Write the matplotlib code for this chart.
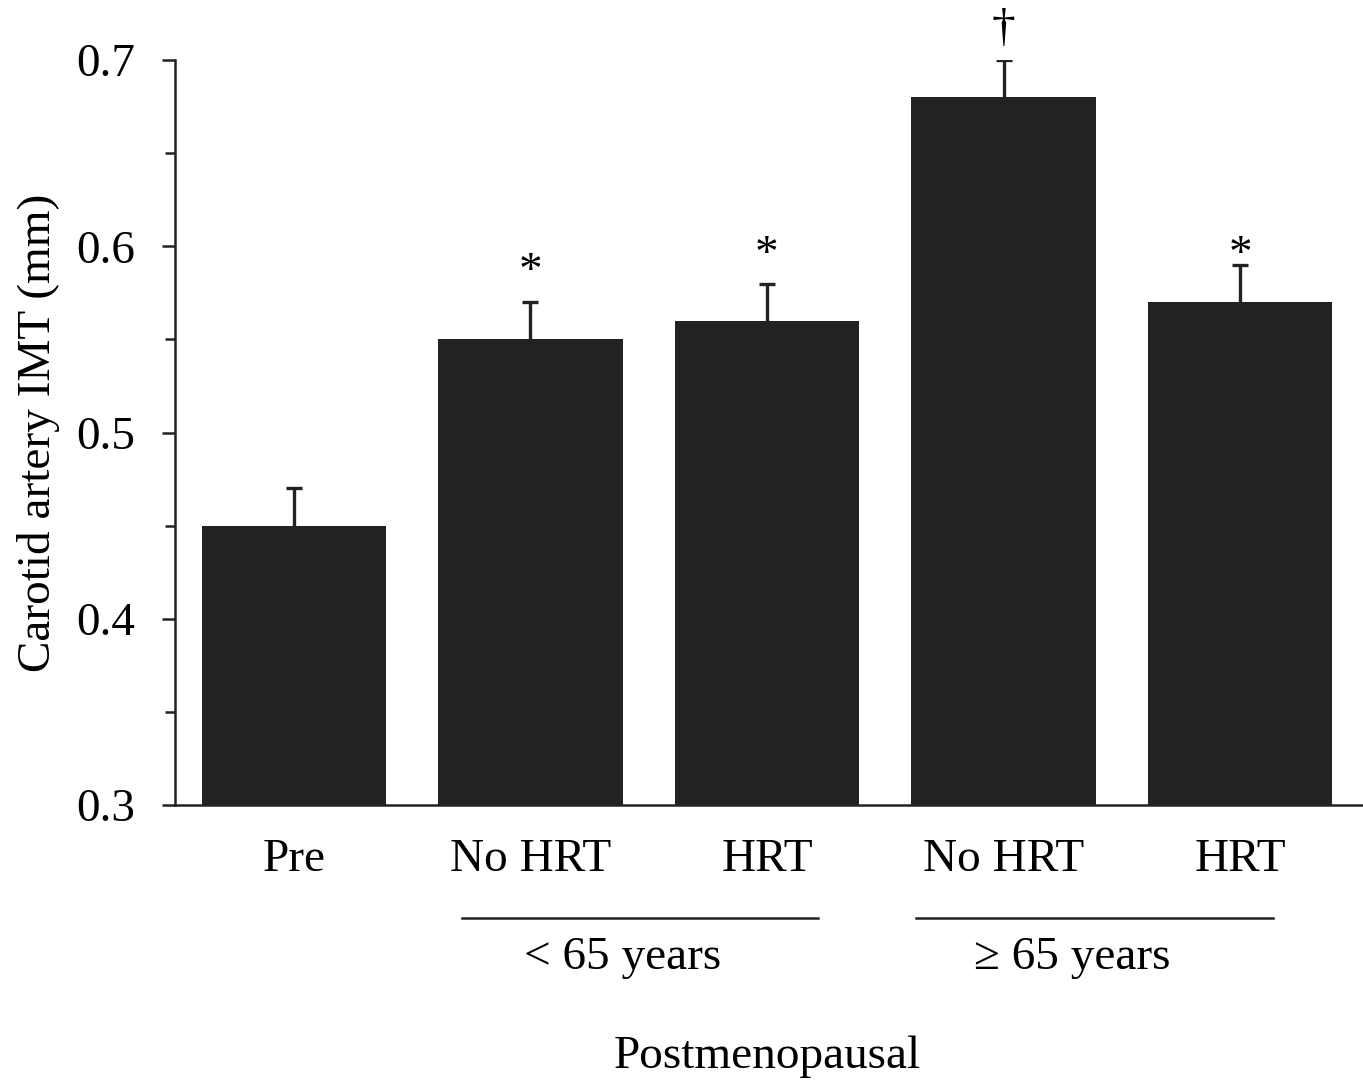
import numpy as np
import matplotlib.pyplot as plt
from matplotlib.ticker import MultipleLocator

groups = ["Pre", "No HRT", "HRT", "No HRT", "HRT"]
imt = [0.45, 0.55, 0.56, 0.68, 0.57]
sem = [0.02, 0.02, 0.02, 0.02, 0.02]
marks = ["", "*", "*", "\u2020", "*"]
mark_y = [None, 0.586, 0.595, 0.716, 0.595]
age_groups = ["< 65 years", "\u2265 65 years"]
age_spans = [(0.71, 2.216), (2.63, 4.14)]
age_label_x = [1.39, 3.29]

plt.rcParams['font.family'] = ['Liberation Serif', 'DejaVu Serif']
ink = "#222222"
fs = 34

fig = plt.figure(figsize=(13.63, 10.85), dpi=100)
ax = fig.add_axes([0.1284, 0.258, 0.8716, 0.6867])

x = np.arange(len(groups))
# symmetric error bars drawn under the bars, so only the upper half shows
ax.errorbar(x, imt, yerr=sem, fmt="none", ecolor=ink,
            elinewidth=2.4, capsize=6, capthick=2.4, zorder=1)
ax.bar(x, imt, width=0.78, color=ink, zorder=2)

for xi, m, my in zip(x, marks, mark_y):
    if m:
        ax.text(xi, my, m, ha="center", va="center", fontsize=fs, color="black",
                clip_on=False)

ax.set_xlim(-0.503, 4.52)
ax.set_ylim(0.3, 0.7)
ax.yaxis.set_major_locator(MultipleLocator(0.1))
ax.yaxis.set_minor_locator(MultipleLocator(0.05))
ax.set_yticklabels([f"{v:.1f}" for v in ax.get_yticks()])
ax.set_xticks(x)
ax.set_xticklabels(groups)
ax.tick_params(axis="x", length=0, pad=24, labelsize=fs)
ax.tick_params(axis="y", which="major", length=9.5, width=1.8, pad=19, labelsize=fs,
               color=ink)
ax.tick_params(axis="y", which="minor", length=7, width=1.8, color=ink)

for side in ["top", "right"]:
    ax.spines[side].set_visible(False)
for side in ["left", "bottom"]:
    ax.spines[side].set_linewidth(1.8)
    ax.spines[side].set_color(ink)

ax.set_ylabel("Carotid artery IMT (mm)", fontsize=fs, labelpad=12)

# age-group brackets below the tick labels
trans = ax.get_xaxis_transform()
for (a, b), lx, label in zip(age_spans, age_label_x, age_groups):
    ax.plot([a, b], [-0.151, -0.151], color=ink, lw=1.8,
            transform=trans, clip_on=False)
    ax.text(lx, -0.205, label, ha="center", va="center",
            fontsize=fs, transform=trans)

fig.text(0.563, 0.016, "Postmenopausal", ha="center", va="baseline", fontsize=fs)

fig.savefig("out.png", dpi=100)
